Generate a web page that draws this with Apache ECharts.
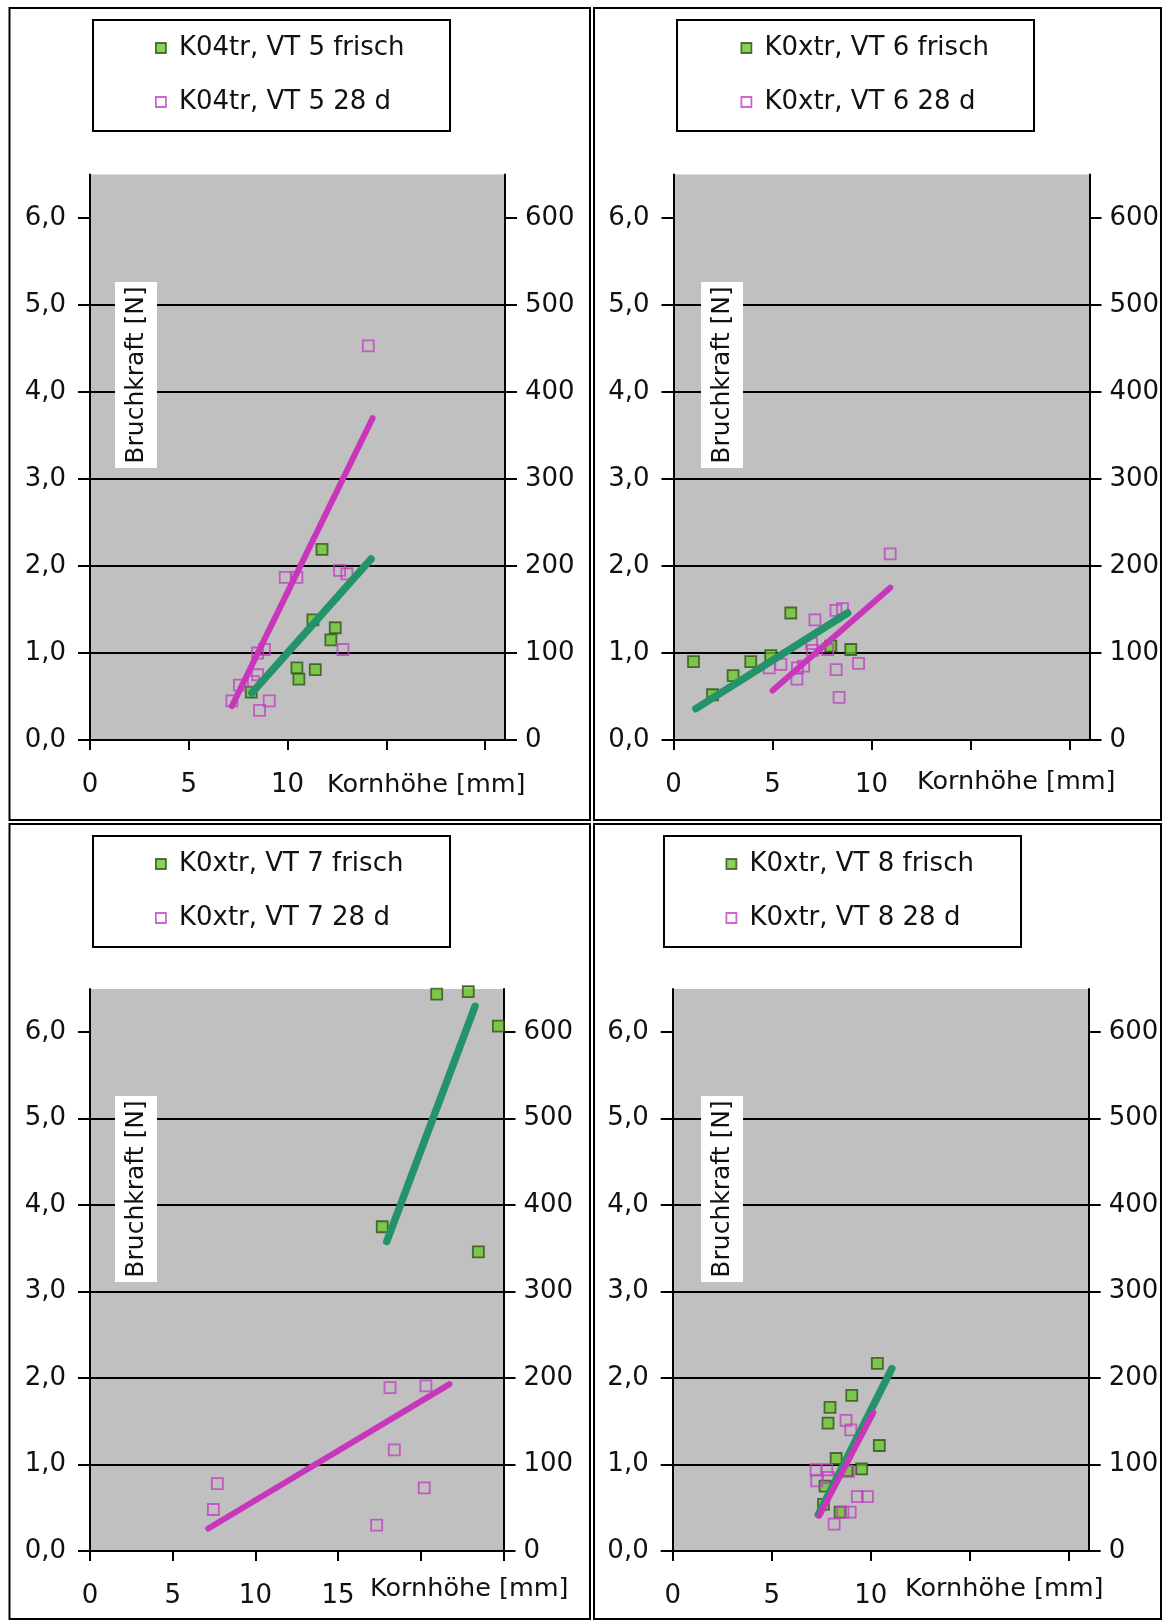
<!DOCTYPE html>
<html><head><meta charset="utf-8">
<script src="https://cdn.jsdelivr.net/npm/echarts@6/dist/echarts.min.js"></script>
<style>html,body{margin:0;padding:0;background:#fff}#c{width:1163px;height:1621px}</style>
</head><body><div id="c"></div>
<script>
const FONT = 'DejaVu Sans';

// ---------- data ----------
// Panel 1: K04tr, VT 5
const vt5FrischX = [11.74, 11.28, 12.41, 12.19, 10.47, 11.40, 10.57, 8.16];
const vt5FrischY = [2.19, 1.38, 1.29, 1.15, 0.83, 0.81, 0.70, 0.55];
const vt5d28X = [14.08, 9.88, 10.47, 12.63, 13.00, 12.80, 8.48, 8.83, 8.48, 8.27, 7.56, 7.18, 9.07, 8.58];
const vt5d28Y = [4.53, 1.87, 1.87, 1.95, 1.91, 1.04, 1.00, 1.04, 0.75, 0.67, 0.63, 0.45, 0.45, 0.34];
const vt5FrischTrendX = [8.19, 14.22], vt5FrischTrendY = [0.54, 2.08];
const vt5d28TrendX = [7.18, 14.30], vt5d28TrendY = [0.39, 3.70];

// Panel 2: K0xtr, VT 6
const vt6FrischX = [1.01, 1.97, 3.01, 3.90, 4.91, 5.92, 7.94, 8.95];
const vt6FrischY = [0.90, 0.52, 0.74, 0.90, 0.97, 1.46, 1.08, 1.04];
const vt6d28X = [10.94, 8.20, 8.53, 7.14, 6.97, 7.78, 7.02, 5.42, 4.83, 6.26, 6.57, 6.23, 8.21, 9.34, 8.36];
const vt6d28Y = [2.14, 1.49, 1.51, 1.38, 1.11, 1.04, 1.03, 0.87, 0.83, 0.83, 0.85, 0.70, 0.81, 0.88, 0.49];
const vt6FrischTrendX = [1.13, 8.79], vt6FrischTrendY = [0.36, 1.46];
const vt6d28TrendX = [5.00, 10.94], vt6d28TrendY = [0.57, 1.75];

// Panel 3: K0xtr, VT 7
const vt7FrischX = [20.96, 22.87, 24.69, 17.67, 23.48];
const vt7FrischY = [6.44, 6.47, 6.07, 3.75, 3.46];
const vt7d28X = [18.14, 20.31, 18.40, 20.21, 17.33, 7.70, 7.46];
const vt7d28Y = [1.89, 1.91, 1.17, 0.73, 0.30, 0.78, 0.48];
const vt7FrischTrendX = [17.94, 23.28], vt7FrischTrendY = [3.58, 6.30];
const vt7d28TrendX = [7.15, 21.74], vt7d28TrendY = [0.26, 1.93];

// Panel 4: K0xtr, VT 8
const vt8FrischX = [10.33, 9.04, 7.94, 7.84, 10.43, 8.25, 9.54, 8.80, 7.69, 7.61, 8.45];
const vt8FrischY = [2.17, 1.80, 1.66, 1.48, 1.22, 1.07, 0.95, 0.93, 0.75, 0.54, 0.45];
const vt8d28X = [8.75, 8.99, 7.24, 7.78, 8.87, 7.27, 7.86, 9.32, 9.83, 8.59, 8.96, 8.15];
const vt8d28Y = [1.51, 1.40, 0.94, 0.94, 0.92, 0.81, 0.85, 0.63, 0.63, 0.45, 0.45, 0.31];
const vt8FrischTrendX = [7.35, 11.06], vt8FrischTrendY = [0.42, 2.11];
const vt8d28TrendX = [7.40, 10.13], vt8d28TrendY = [0.41, 1.60];

// series names (legend)
const seriesNames = [
  ['K04tr, VT 5 frisch', 'K04tr, VT 5 28 d'],
  ['K0xtr, VT 6 frisch', 'K0xtr, VT 6 28 d'],
  ['K0xtr, VT 7 frisch', 'K0xtr, VT 7 28 d'],
  ['K0xtr, VT 8 frisch', 'K0xtr, VT 8 28 d']
];
// axis ticks / labels
const leftTicks = [0, 1, 2, 3, 4, 5, 6];
const rightTicks = [0, 100, 200, 300, 400, 500, 600];
const xTicksShort = [0, 5, 10, 15, 20];
const xTicksLong = [0, 5, 10, 15, 20, 25];
const xLabelsShort = [0, 5, 10];
const xLabelsLong = [0, 5, 10, 15];
const xMaxes = [21, 21, 25, 21];
const yTitle = 'Bruchkraft [N]';
const xTitle = 'Kornhöhe [mm]';

const panelData = [
  {fx: vt5FrischX, fy: vt5FrischY, px: vt5d28X, py: vt5d28Y, ftx: vt5FrischTrendX, fty: vt5FrischTrendY, ptx: vt5d28TrendX, pty: vt5d28TrendY},
  {fx: vt6FrischX, fy: vt6FrischY, px: vt6d28X, py: vt6d28Y, ftx: vt6FrischTrendX, fty: vt6FrischTrendY, ptx: vt6d28TrendX, pty: vt6d28TrendY},
  {fx: vt7FrischX, fy: vt7FrischY, px: vt7d28X, py: vt7d28Y, ftx: vt7FrischTrendX, fty: vt7FrischTrendY, ptx: vt7d28TrendX, pty: vt7d28TrendY},
  {fx: vt8FrischX, fy: vt8FrischY, px: vt8d28X, py: vt8d28Y, ftx: vt8FrischTrendX, fty: vt8FrischTrendY, ptx: vt8d28TrendX, pty: vt8d28TrendY}
];

// ---------- layout ----------
const layout = [
  {grid: {left: 90, top: 174.5, width: 415, height: 565.5}, xTicks: xTicksShort, xLabels: xLabelsShort,
   frame: [9.5, 8, 580.5, 812], legendBox: [93, 20, 357, 111], legendLeft: 155, legendTop: 35,
   yTitleBox: [115, 282, 42, 186], xTitlePos: [327, 785]},
  {grid: {left: 673.5, top: 174.5, width: 416, height: 565.5}, xTicks: xTicksShort, xLabels: xLabelsShort,
   frame: [594, 8, 567, 812], legendBox: [677, 20, 357, 111], legendLeft: 740.5, legendTop: 35,
   yTitleBox: [701, 282, 42, 186], xTitlePos: [917, 782]},
  {grid: {left: 90, top: 989, width: 413.5, height: 562}, xTicks: xTicksLong, xLabels: xLabelsLong,
   frame: [9.5, 824, 580.5, 795], legendBox: [93, 836, 357, 111], legendLeft: 155, legendTop: 851,
   yTitleBox: [115, 1096, 42, 186], xTitlePos: [370, 1589]},
  {grid: {left: 672.7, top: 989, width: 416, height: 562}, xTicks: xTicksShort, xLabels: xLabelsShort,
   frame: [594, 824, 567, 795], legendBox: [664, 836, 357, 111], legendLeft: 725.5, legendTop: 851,
   yTitleBox: [701, 1096, 42, 186], xTitlePos: [905, 1589]}
];

const GREEN_FILL = '#6CC52E', GREEN_EDGE = '#2E5418';
const PINK_EDGE = '#C040C0';
const GREEN_LINE = '#25936A', PINK_LINE = '#C936BC';
const BG = '#C0C0C0';
const TXT = '#111';

const grids = [], xAxes = [], yAxes = [], series = [], legends = [], graphics = [];
const pts = (xs, ys) => xs.map((x, i) => [x, ys[i]]);

layout.forEach((L, k) => {
  const D = panelData[k];
  grids.push(Object.assign({show: true, backgroundColor: BG, borderWidth: 0, containLabel: false}, L.grid));
  xAxes.push({
    type: 'value', gridIndex: k, min: 0, max: xMaxes[k], interval: 5,
    axisLine: {show: true, onZero: false, lineStyle: {color: '#000', width: 2}},
    axisTick: {show: true, inside: false, length: 10, customValues: L.xTicks, lineStyle: {color: '#000', width: 2}},
    axisLabel: {show: true, customValues: L.xLabels, margin: 32, fontFamily: FONT, fontSize: 26, color: TXT},
    splitLine: {show: false}
  });
  yAxes.push({
    type: 'value', gridIndex: k, position: 'left', min: 0, max: 6.5, interval: 1,
    axisLine: {show: true, lineStyle: {color: '#000', width: 2}},
    axisTick: {show: true, inside: false, length: 12, customValues: leftTicks, lineStyle: {color: '#000', width: 2}},
    axisLabel: {show: true, customValues: leftTicks, margin: 24, fontFamily: FONT, fontSize: 26, color: TXT,
                formatter: v => v.toFixed(1).replace('.', ',')},
    splitLine: {show: true, showMaxLine: false, lineStyle: {color: '#000', width: 2}}
  });
  yAxes.push({
    type: 'value', gridIndex: k, position: 'right', min: 0, max: 650, interval: 100,
    axisLine: {show: true, lineStyle: {color: '#000', width: 2}},
    axisTick: {show: true, inside: false, length: 12, customValues: rightTicks, lineStyle: {color: '#000', width: 2}},
    axisLabel: {show: true, customValues: rightTicks, margin: 20, fontFamily: FONT, fontSize: 26, color: TXT},
    splitLine: {show: false}
  });
  const yi = 2 * k;
  series.push({
    name: seriesNames[k][0], type: 'scatter', xAxisIndex: k, yAxisIndex: yi,
    symbol: 'rect', symbolSize: 11, z: 2, clip: false,
    itemStyle: {color: GREEN_FILL, borderColor: GREEN_EDGE, borderWidth: 1.8},
    data: pts(D.fx, D.fy)
  });
  series.push({
    name: seriesNames[k][1], type: 'scatter', xAxisIndex: k, yAxisIndex: yi,
    symbol: 'rect', symbolSize: 11, z: 2, clip: false,
    itemStyle: {color: 'rgba(0,0,0,0)', borderColor: PINK_EDGE, borderWidth: 1.8},
    data: pts(D.px, D.py)
  });
  series.push({
    name: 'trend-frisch-' + k, type: 'line', xAxisIndex: k, yAxisIndex: yi, z: 3,
    showSymbol: false, symbol: 'none', silent: true,
    lineStyle: {color: GREEN_LINE, width: 7.5, cap: 'round'},
    data: pts(D.ftx, D.fty)
  });
  series.push({
    name: 'trend-28d-' + k, type: 'line', xAxisIndex: k, yAxisIndex: yi, z: 4,
    showSymbol: false, symbol: 'none', silent: true,
    lineStyle: {color: PINK_LINE, width: 6, cap: 'round'},
    data: pts(D.ptx, D.pty)
  });
  legends.push({
    show: true, orient: 'vertical', left: L.legendLeft, top: L.legendTop, padding: 0,
    itemWidth: 10, itemHeight: 10, itemGap: 28, selectedMode: false,
    textStyle: {fontFamily: FONT, fontSize: 26, color: TXT, lineHeight: 26, padding: [0, 0, 0, 8]},
    data: [
      {name: seriesNames[k][0], icon: 'rect', itemStyle: {color: GREEN_FILL, borderColor: GREEN_EDGE, borderWidth: 1.8}},
      {name: seriesNames[k][1], icon: 'rect', itemStyle: {color: '#fff', borderColor: PINK_EDGE, borderWidth: 1.8}}
    ]
  });
  // panel frame
  graphics.push({type: 'rect', z: 0, shape: {x: L.frame[0], y: L.frame[1], width: L.frame[2], height: L.frame[3]},
    style: {fill: 'none', stroke: '#000', lineWidth: 2}});
  // legend box
  graphics.push({type: 'rect', z: 0, shape: {x: L.legendBox[0], y: L.legendBox[1], width: L.legendBox[2], height: L.legendBox[3]},
    style: {fill: '#fff', stroke: '#000', lineWidth: 2}});
  // y title box with rotated text
  const b = L.yTitleBox;
  graphics.push({type: 'rect', z: 50, shape: {x: b[0], y: b[1], width: b[2], height: b[3]}, style: {fill: '#fff'}});
  graphics.push({type: 'text', z: 51, x: b[0] + b[2] / 2, y: b[1] + b[3] / 2, rotation: Math.PI / 2,
    style: {text: yTitle, font: '25px "' + FONT + '"', fill: TXT, align: 'center', verticalAlign: 'middle'}});
  // x title
  graphics.push({type: 'text', z: 51, x: L.xTitlePos[0], y: L.xTitlePos[1],
    style: {text: xTitle, font: '25.5px "' + FONT + '"', fill: TXT, align: 'left', verticalAlign: 'middle'}});
});

const chart = echarts.init(document.getElementById('c'), null, {renderer: 'canvas'});
chart.setOption({
  animation: false,
  backgroundColor: '#fff',
  textStyle: {fontFamily: FONT},
  grid: grids, xAxis: xAxes, yAxis: yAxes, series: series, legend: legends,
  graphic: {elements: graphics}
});
</script></body></html>
